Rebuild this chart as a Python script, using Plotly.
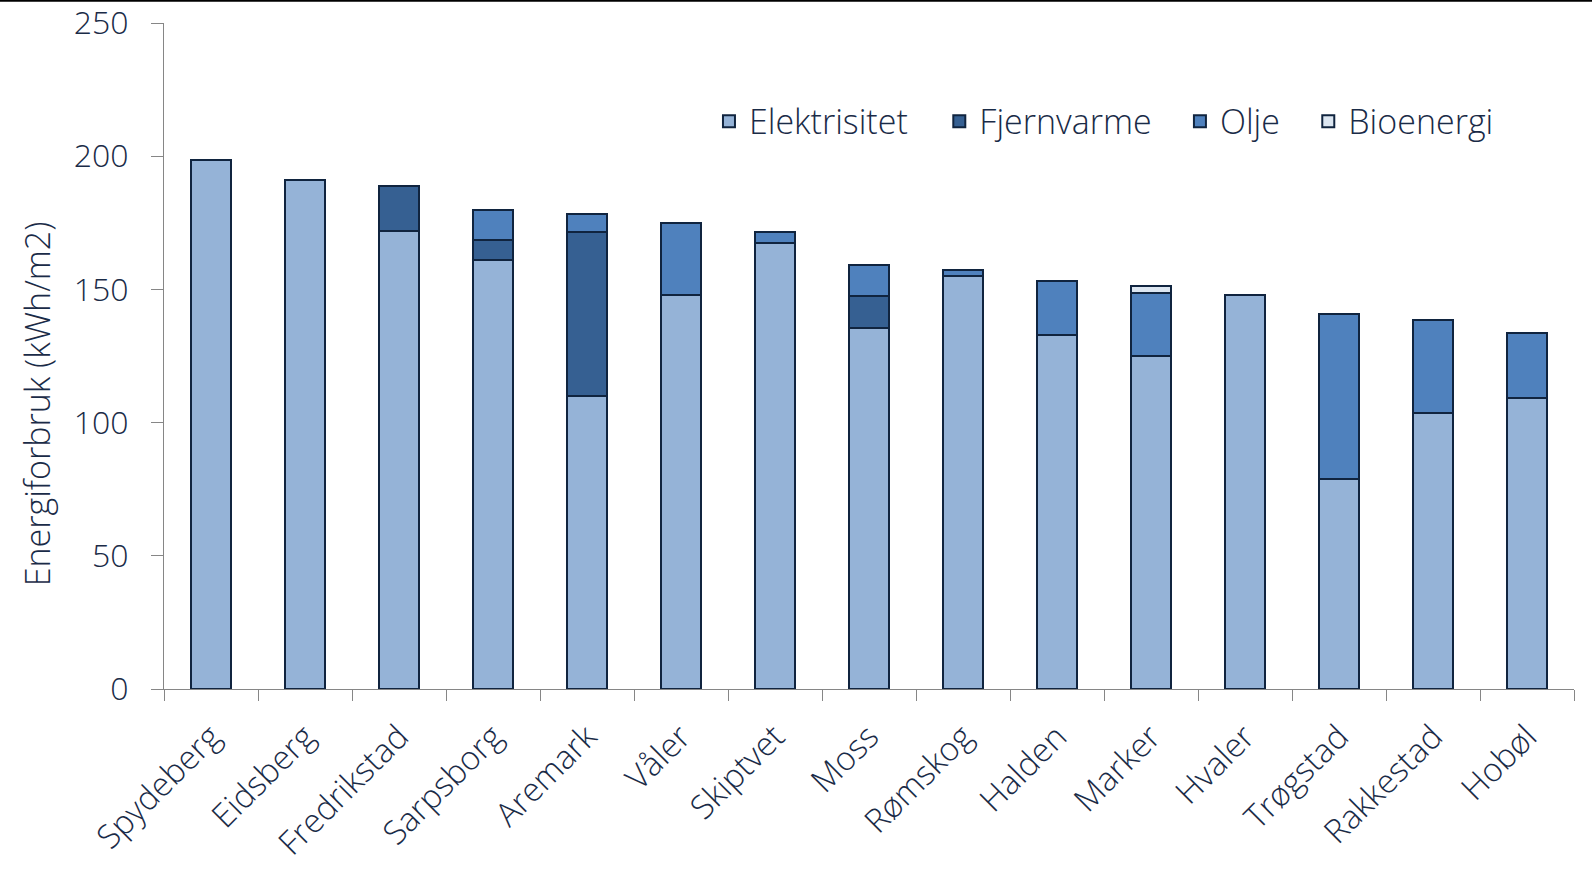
import plotly.graph_objects as go

kommuner = ["Spydeberg", "Eidsberg", "Fredrikstad", "Sarpsborg", "Aremark", "Våler",
            "Skiptvet", "Moss", "Rømskog", "Halden", "Marker", "Hvaler", "Trøgstad",
            "Rakkestad", "Hobøl"]
elektrisitet = [198.5, 191.2, 171.9, 161.2, 109.8, 147.9, 167.3, 135.7, 155.1, 133.0, 125.0, 147.9, 78.9, 103.7, 109.4]
fjernvarme = [0, 0, 17.1, 7.2, 61.7, 0, 0, 11.8, 0, 0, 0, 0, 0, 0, 0]
olje = [0, 0, 0, 11.5, 6.9, 27.0, 4.2, 11.8, 2.3, 20.2, 23.6, 0, 61.7, 35.0, 24.4]
bioenergi = [0, 0, 0, 0, 0, 0, 0, 0, 0, 0, 2.7, 0, 0, 0, 0]
serie_navn = ["Elektrisitet", "Fjernvarme", "Olje", "Bioenergi"]
y_tittel = "Energiforbruk (kWh/m2)"

farger = ["#95B3D7", "#366092", "#4F81BD", "#DCE6F1"]
verdier = [elektrisitet, fjernvarme, olje, bioenergi]

txt = "#1A2B47"
font_family = "Open Sans"
# legend spacing padding after each label
pads = ["\u00a0\u00a0\u00a0", "\u00a0\u00a0\u2009", "\u00a0\u00a0\u2009", ""]

fig = go.Figure()
for name, vals, col, pad in zip(serie_navn, verdier, farger, pads):
    fig.add_trace(go.Bar(
        name=name + pad, x=kommuner, y=vals,
        marker=dict(color=col, line=dict(color="#10243F", width=2)),
    ))

fig.update_layout(
    barmode="stack",
    bargap=0.575,
    width=1592, height=874,
    margin=dict(l=164, r=18, t=23, b=185, autoexpand=False),
    plot_bgcolor="white", paper_bgcolor="white",
    font=dict(family=font_family, color=txt, size=30, weight=300),
    legend=dict(orientation="h", x=0.3865, y=0.852, xanchor="left", yanchor="middle",
                traceorder="normal",
                font=dict(size=34, color=txt, family=font_family, weight=300),
                itemwidth=30, tracegroupgap=0, bgcolor="rgba(0,0,0,0)"),
    showlegend=True,
    shapes=[dict(type="line", xref="paper", yref="paper", x0=-0.2, x1=1.1,
                 y0=1.0335, y1=1.0335, line=dict(color="black", width=2))],
    annotations=[dict(text=y_tittel, xref="paper", yref="paper",
                      x=(37.6 - 164.3) / 1410, y=0.428, textangle=-90,
                      showarrow=False, xanchor="center", yanchor="middle",
                      font=dict(size=34, color=txt, family=font_family, weight=300))],
)
fig.update_xaxes(
    type="category", showline=True, linecolor="#868686", linewidth=1.3,
    ticks="outside", ticklen=11, tickcolor="#868686", tickwidth=1.3,
    tickson="boundaries", tickangle=-45, showgrid=False, automargin=False,
    tickfont=dict(size=33, color=txt, family=font_family, weight=300),
    ticklabelstandoff=14,
)
fig.update_yaxes(
    range=[0, 250], dtick=50, showline=True, linecolor="#868686", linewidth=1.3,
    ticks="outside", ticklen=12, tickcolor="#868686", tickwidth=1.3,
    showgrid=False, zeroline=False, automargin=False,
    tickfont=dict(size=32, color=txt, family=font_family, weight=300),
    ticklabelstandoff=16,
)
fig.write_html("out.html", config={"displayModeBar": False},
               post_script="document.body.style.margin='0';document.body.style.overflow='hidden';")
